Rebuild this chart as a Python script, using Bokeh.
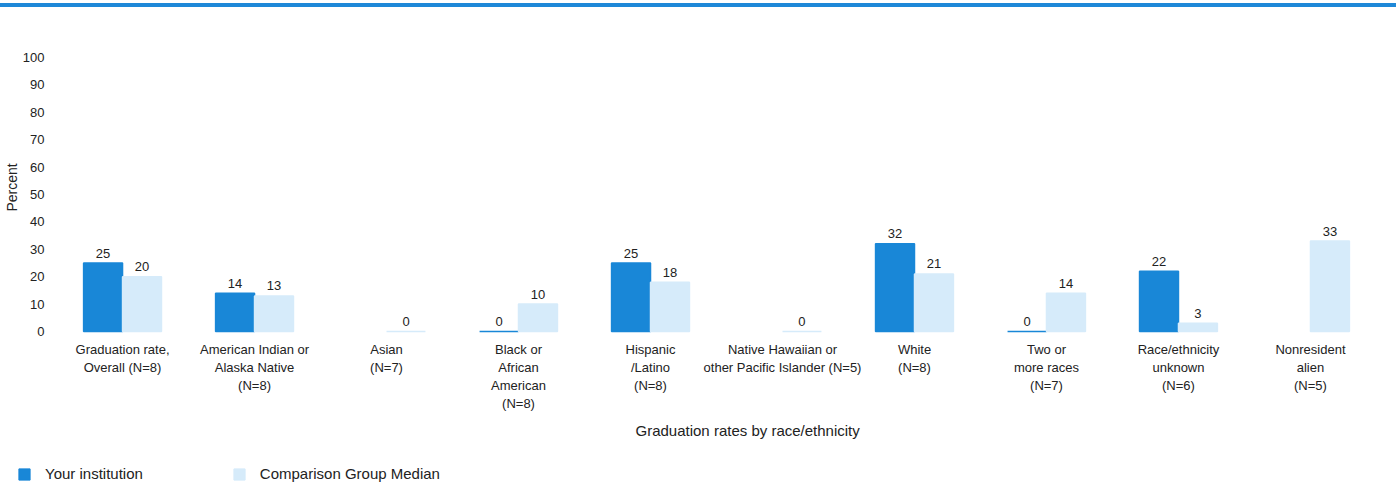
from bokeh.plotting import figure
from bokeh.models import ColumnDataSource, FixedTicker, Legend, LegendItem, Title, Div
from bokeh.layouts import column, row
from bokeh.transform import dodge
from bokeh.embed import file_html
from bokeh.resources import INLINE

# ---------------- data ----------------
categories = [
    "Graduation rate,\nOverall (N=8)",
    "American Indian or\nAlaska Native\n(N=8)",
    "Asian\n(N=7)",
    "Black or\nAfrican\nAmerican\n(N=8)",
    "Hispanic\n/Latino\n(N=8)",
    "Native Hawaiian or\nother Pacific Islander (N=5)",
    "White\n(N=8)",
    "Two or\nmore races\n(N=7)",
    "Race/ethnicity\nunknown\n(N=6)",
    "Nonresident\nalien\n(N=5)",
]
your_institution = [25, 14, None, 0, 25, None, 32, 0, 22, None]
comparison_median = [20, 13, 0, 10, 18, 0, 21, 14, 3, 33]
y_ticks = [0, 10, 20, 30, 40, 50, 60, 70, 80, 90, 100]
series_names = ["Your institution", "Comparison Group Median"]
y_title = "Percent"
x_title = "Graduation rates by race/ethnicity"

# ---------------- style ----------------
FONT = "Liberation Sans"
DARK = "#1987d7"
LIGHT = "#d6ebfa"
TXT = "#222222"
BAR_W = 0.295
OFF = BAR_W / 2

xs = list(range(len(categories)))
nan = float("nan")
src = ColumnDataSource(dict(
    x=xs,
    yours=[nan if v is None else v for v in your_institution],
    comp=[nan if v is None else v for v in comparison_median],
    yours_lbl=["" if v is None else str(v) for v in your_institution],
    comp_lbl=["" if v is None else str(v) for v in comparison_median],
))

p = figure(width=1396, height=438, x_range=(-0.47, 9.576), y_range=(-1.09, 106.2),
           output_backend="svg", toolbar_location=None,
           min_border_left=60, min_border_right=10, min_border_top=33, min_border_bottom=110)
p.outline_line_color = None
p.xgrid.visible = False
p.ygrid.visible = False

r1 = p.vbar(x=dodge("x", -OFF, range=p.x_range), top="yours", width=BAR_W, source=src,
            fill_color=DARK, line_color=DARK, line_width=1.5)
r2 = p.vbar(x=dodge("x", OFF, range=p.x_range), top="comp", width=BAR_W, source=src,
            fill_color=LIGHT, line_color=LIGHT, line_width=1.5)

for col, lbl, off in (("yours", "yours_lbl", -OFF), ("comp", "comp_lbl", OFF)):
    p.text(x=dodge("x", off, range=p.x_range), y=col, text=lbl, source=src,
           text_font={"value": FONT}, text_font_size="13px", text_color=TXT,
           text_align="center", text_baseline="alphabetic", y_offset=-10)

# axes
p.yaxis.ticker = FixedTicker(ticks=y_ticks)
p.yaxis.axis_line_color = None
p.yaxis.major_tick_line_color = None
p.yaxis.minor_tick_line_color = None
p.yaxis.major_label_standoff = 10
p.yaxis.major_label_text_font = FONT
p.yaxis.major_label_text_font_size = "13px"
p.yaxis.major_label_text_color = TXT
p.yaxis.axis_label = y_title
p.yaxis.axis_label_standoff = 0
p.yaxis.axis_label_text_font = FONT
p.yaxis.axis_label_text_font_size = "14px"
p.yaxis.axis_label_text_font_style = "normal"
p.yaxis.axis_label_text_color = TXT

p.xaxis.ticker = FixedTicker(ticks=xs)
p.xaxis.major_label_overrides = {i: c for i, c in zip(xs, categories)}
p.xaxis.axis_line_color = None
p.xaxis.major_tick_line_color = None
p.xaxis.minor_tick_line_color = None
p.xaxis.major_label_standoff = 1
p.xaxis.major_label_text_font = FONT
p.xaxis.major_label_text_font_size = "13px"
p.xaxis.major_label_text_color = TXT

p.add_layout(Title(text=x_title, align="left", offset=575, standoff=13,
                   text_font=FONT, text_font_size="15px", text_font_style="normal",
                   text_color=TXT), "below")

# ---------------- legend strip ----------------
lf = figure(width=1396, height=42, x_range=(1000, 1001), y_range=(1000, 1001),
            output_backend="svg", toolbar_location=None,
            x_axis_location=None, y_axis_location=None,
            min_border=0, min_border_left=0, min_border_right=0,
            min_border_top=0, min_border_bottom=0)
lf.grid.visible = False
lf.outline_line_color = None
l1 = lf.vbar(x="x", top="yours", width=BAR_W, source=src, fill_color=DARK, line_color=DARK)
l2 = lf.vbar(x="x", top="comp", width=BAR_W, source=src, fill_color=LIGHT, line_color=LIGHT)
lg = Legend(items=[LegendItem(label=series_names[0], renderers=[l1]),
                   LegendItem(label=series_names[1], renderers=[l2])],
            location=(17, 5), orientation="horizontal", padding=0, margin=0,
            spacing=89, border_line_color=None, background_fill_alpha=0,
            glyph_width=14, glyph_height=14, label_height=14, label_standoff=14,
            label_text_font=FONT, label_text_font_size="15px", label_text_color=TXT)
lf.add_layout(lg)

top_line = Div(width=1396, height=4, margin=(3, 0, 0, 0),
               styles={"background-color": "#1e88d8"})
layout = column(column(top_line, p, spacing=0), row(lf, spacing=0), spacing=0)

open("out.html", "w").write(file_html(layout, INLINE))
